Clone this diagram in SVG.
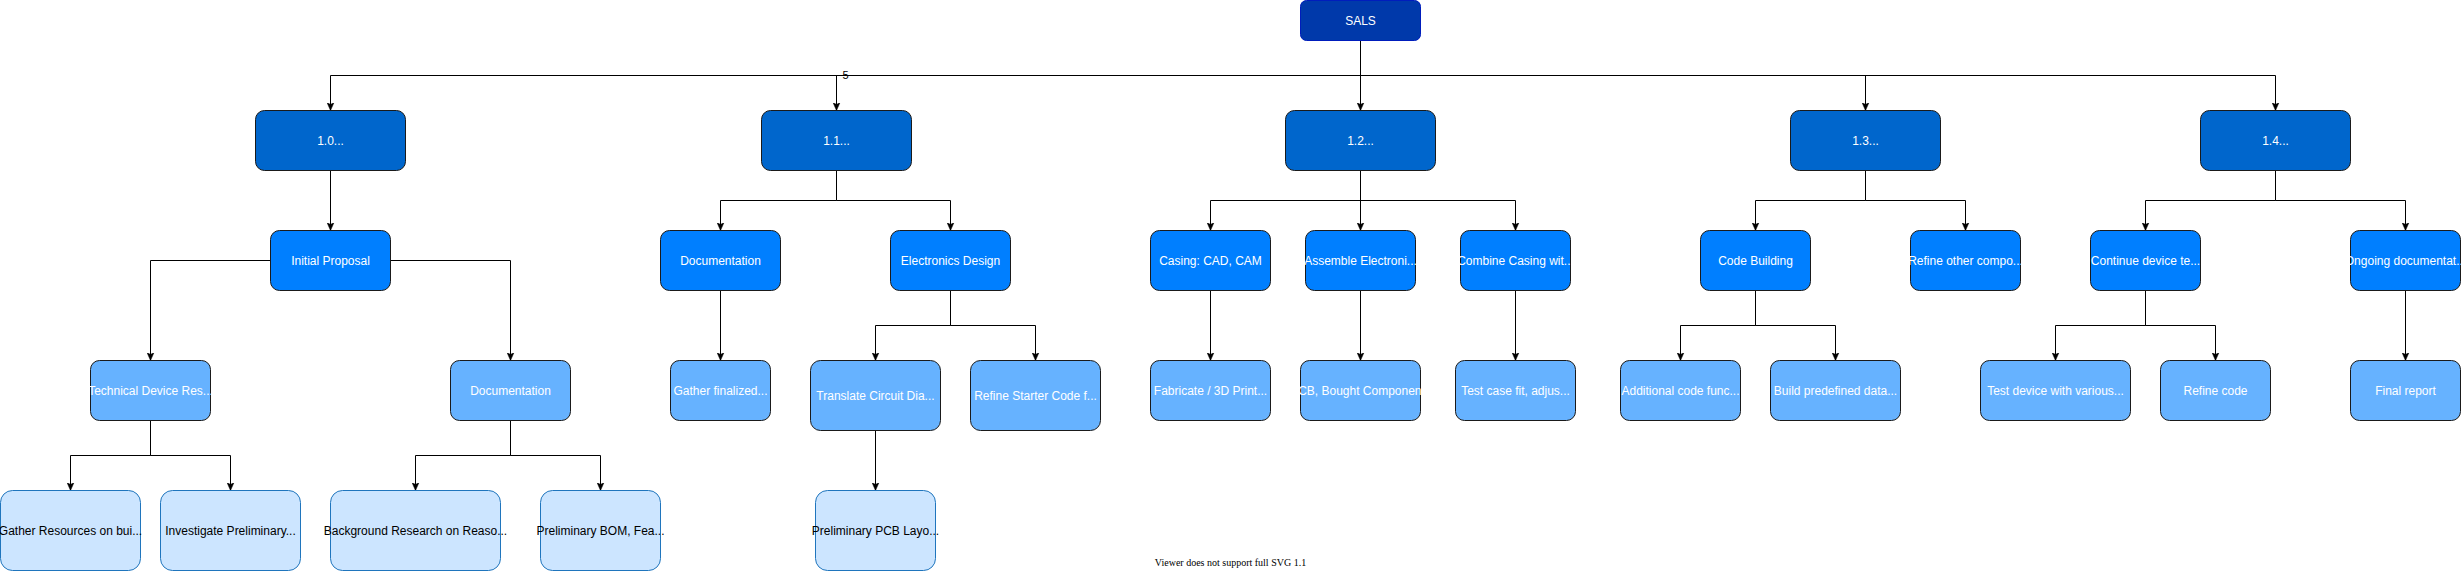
<svg xmlns="http://www.w3.org/2000/svg" width="2461" height="571" viewBox="0 0 2461 571">
<style>
text{font-family:"Liberation Sans",Arial,Helvetica,sans-serif;font-size:12px;text-anchor:middle;fill:#ffffff}
.root rect{fill:#0039AA;stroke:#001DBC}
.l1 rect{fill:#0066CC;stroke:#1a1a1a}
.l2 rect{fill:#007FFF;stroke:#1a1a1a}
.l3 rect{fill:#66B2FF;stroke:#1a1a1a}
.l4 rect{fill:#CCE5FF;stroke:#1F75BD}
.l4 text{fill:#000000}
#connectors path{fill:none;stroke:#000000;stroke-width:1}
.lbl{fill:#000000;font-size:11px}
.note{font-family:"Liberation Serif","Times New Roman",serif;font-size:10px;fill:#000000}
</style>
<defs>
<marker id="arr" markerUnits="userSpaceOnUse" viewBox="0 0 8 8" refX="8" refY="4" markerWidth="8" markerHeight="8" orient="auto">
<path d="M0,0.5 L8,4 L0,7.5 L2,4 Z" fill="#000000" stroke="#000000" stroke-width="0.5"/>
</marker>
</defs>
<rect x="0" y="0" width="2461" height="571" fill="#ffffff"/>
<g transform="translate(0.5,0.5)">
<g id="connectors" marker-end="url(#arr)">
<path d="M1360,40 V75 H330 V110" marker-end="url(#arr)"/>
<path d="M1360,40 V75 H836 V110" marker-end="url(#arr)"/>
<path d="M1360,40 V110" marker-end="url(#arr)"/>
<path d="M1360,40 V75 H1865 V110" marker-end="url(#arr)"/>
<path d="M1360,40 V75 H2275 V110" marker-end="url(#arr)"/>
<text class="lbl" x="845" y="78">5</text>
<path d="M330,170 V230" marker-end="url(#arr)"/>
<path d="M270,260 H150 V360" marker-end="url(#arr)"/>
<path d="M390,260 H510 V360" marker-end="url(#arr)"/>
<path d="M150,420 V455 H70 V490" marker-end="url(#arr)"/>
<path d="M150,420 V455 H230 V490" marker-end="url(#arr)"/>
<path d="M510,420 V455 H415 V490" marker-end="url(#arr)"/>
<path d="M510,420 V455 H600 V490" marker-end="url(#arr)"/>
<path d="M836,170 V200 H720 V230" marker-end="url(#arr)"/>
<path d="M836,170 V200 H950 V230" marker-end="url(#arr)"/>
<path d="M720,290 V360" marker-end="url(#arr)"/>
<path d="M950,290 V325 H875 V360" marker-end="url(#arr)"/>
<path d="M950,290 V325 H1035 V360" marker-end="url(#arr)"/>
<path d="M875,430 V490" marker-end="url(#arr)"/>
<path d="M1360,170 V200 H1210 V230" marker-end="url(#arr)"/>
<path d="M1360,170 V230" marker-end="url(#arr)"/>
<path d="M1360,170 V200 H1515 V230" marker-end="url(#arr)"/>
<path d="M1210,290 V360" marker-end="url(#arr)"/>
<path d="M1360,290 V360" marker-end="url(#arr)"/>
<path d="M1515,290 V360" marker-end="url(#arr)"/>
<path d="M1865,170 V200 H1755 V230" marker-end="url(#arr)"/>
<path d="M1865,170 V200 H1965 V230" marker-end="url(#arr)"/>
<path d="M1755,290 V325 H1680 V360" marker-end="url(#arr)"/>
<path d="M1755,290 V325 H1835 V360" marker-end="url(#arr)"/>
<path d="M2275,170 V200 H2145 V230" marker-end="url(#arr)"/>
<path d="M2275,170 V200 H2405 V230" marker-end="url(#arr)"/>
<path d="M2145,290 V325 H2055 V360" marker-end="url(#arr)"/>
<path d="M2145,290 V325 H2215 V360" marker-end="url(#arr)"/>
<path d="M2405,290 V360" marker-end="url(#arr)"/>
</g>

<g id="sals" class="root"><rect x="1300" y="0" width="120" height="40" rx="6"/><text x="1360" y="24">SALS</text></g>

<g id="n1-0" class="l1"><rect x="255" y="110" width="150" height="60" rx="9"/><text x="330" y="144">1.0...</text></g>
<g id="n1-1" class="l1"><rect x="761" y="110" width="150" height="60" rx="9"/><text x="836" y="144">1.1...</text></g>
<g id="n1-2" class="l1"><rect x="1285" y="110" width="150" height="60" rx="9"/><text x="1360" y="144">1.2...</text></g>
<g id="n1-3" class="l1"><rect x="1790" y="110" width="150" height="60" rx="9"/><text x="1865" y="144">1.3...</text></g>
<g id="n1-4" class="l1"><rect x="2200" y="110" width="150" height="60" rx="9"/><text x="2275" y="144">1.4...</text></g>

<g id="initial-proposal" class="l2"><rect x="270" y="230" width="120" height="60" rx="9"/><text x="330" y="264">Initial Proposal</text></g>
<g id="documentation-11" class="l2"><rect x="660" y="230" width="120" height="60" rx="9"/><text x="720" y="264">Documentation</text></g>
<g id="electronics-design" class="l2"><rect x="890" y="230" width="120" height="60" rx="9"/><text x="950" y="264">Electronics Design</text></g>
<g id="casing" class="l2"><rect x="1150" y="230" width="120" height="60" rx="9"/><text x="1210" y="264">Casing: CAD, CAM</text></g>
<g id="assemble" class="l2"><rect x="1305" y="230" width="110" height="60" rx="9"/><text x="1360" y="264">Assemble Electroni...</text></g>
<g id="combine" class="l2"><rect x="1460" y="230" width="110" height="60" rx="9"/><text x="1515" y="264">Combine Casing wit...</text></g>
<g id="code-building" class="l2"><rect x="1700" y="230" width="110" height="60" rx="9"/><text x="1755" y="264">Code Building</text></g>
<g id="refine-other" class="l2"><rect x="1910" y="230" width="110" height="60" rx="9"/><text x="1965" y="264">Refine other compo...</text></g>
<g id="continue-testing" class="l2"><rect x="2090" y="230" width="110" height="60" rx="9"/><text x="2145" y="264">Continue device te...</text></g>
<g id="ongoing-doc" class="l2"><rect x="2350" y="230" width="110" height="60" rx="9"/><text x="2405" y="264">Ongoing documentat...</text></g>

<g id="technical" class="l3"><rect x="90" y="360" width="120" height="60" rx="9"/><text x="150" y="394">Technical Device Res...</text></g>
<g id="documentation-10" class="l3"><rect x="450" y="360" width="120" height="60" rx="9"/><text x="510" y="394">Documentation</text></g>
<g id="gather-finalized" class="l3"><rect x="670" y="360" width="100" height="60" rx="9"/><text x="720" y="394">Gather finalized...</text></g>
<g id="translate" class="l3"><rect x="810" y="360" width="130" height="70" rx="10"/><text x="875" y="399">Translate Circuit Dia...</text></g>
<g id="refine-starter" class="l3"><rect x="970" y="360" width="130" height="70" rx="10"/><text x="1035" y="399">Refine Starter Code f...</text></g>
<g id="fabricate" class="l3"><rect x="1150" y="360" width="120" height="60" rx="9"/><text x="1210" y="394">Fabricate / 3D Print...</text></g>
<g id="pcb-bought" class="l3"><rect x="1300" y="360" width="120" height="60" rx="9"/><text x="1360" y="394">PCB, Bought Components</text></g>
<g id="test-case" class="l3"><rect x="1455" y="360" width="120" height="60" rx="9"/><text x="1515" y="394">Test case fit, adjus...</text></g>
<g id="additional-code" class="l3"><rect x="1620" y="360" width="120" height="60" rx="9"/><text x="1680" y="394">Additional code func...</text></g>
<g id="build-predefined" class="l3"><rect x="1770" y="360" width="130" height="60" rx="9"/><text x="1835" y="394">Build predefined data...</text></g>
<g id="test-device" class="l3"><rect x="1980" y="360" width="150" height="60" rx="9"/><text x="2055" y="394">Test device with various...</text></g>
<g id="refine-code" class="l3"><rect x="2160" y="360" width="110" height="60" rx="9"/><text x="2215" y="394">Refine code</text></g>
<g id="final-report" class="l3"><rect x="2350" y="360" width="110" height="60" rx="9"/><text x="2405" y="394">Final report</text></g>

<g id="gather-resources" class="l4"><rect x="0" y="490" width="140" height="80" rx="12"/><text x="70" y="534">Gather Resources on bui...</text></g>
<g id="investigate" class="l4"><rect x="160" y="490" width="140" height="80" rx="12"/><text x="230" y="534">Investigate Preliminary...</text></g>
<g id="background" class="l4"><rect x="330" y="490" width="170" height="80" rx="12"/><text x="415" y="534">Background Research on Reaso...</text></g>
<g id="prelim-bom" class="l4"><rect x="540" y="490" width="120" height="80" rx="12"/><text x="600" y="534">Preliminary BOM, Fea...</text></g>
<g id="prelim-pcb" class="l4"><rect x="815" y="490" width="120" height="80" rx="12"/><text x="875" y="534">Preliminary PCB Layo...</text></g>
</g>
<text class="note" x="1230.5" y="566">Viewer does not support full SVG 1.1</text>
</svg>
